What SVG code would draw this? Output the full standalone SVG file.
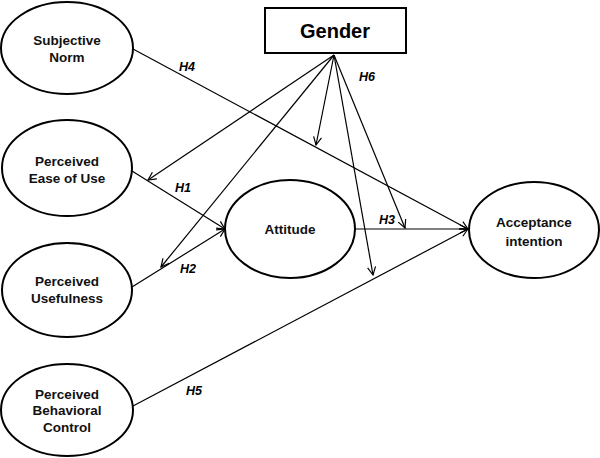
<svg xmlns="http://www.w3.org/2000/svg" width="600" height="458" viewBox="0 0 600 458">
<defs>
<marker id="ah" markerWidth="10" markerHeight="10" refX="9" refY="5" orient="auto" markerUnits="userSpaceOnUse">
<path d="M1,1 L9,5 L1,9" fill="none" stroke="#000" stroke-width="1.2"/>
</marker>
<style>
.n{fill:#fff;stroke:#000;stroke-width:2}
.t{font-family:"Liberation Sans",Arial,sans-serif;font-weight:bold;font-size:13.5px;text-anchor:middle;fill:#111}
.g{font-family:"Liberation Sans",Arial,sans-serif;font-weight:bold;font-size:20px;text-anchor:middle;fill:#000}
.h{font-family:"Liberation Sans",Arial,sans-serif;font-weight:bold;font-style:italic;font-size:12.5px;text-anchor:middle;fill:#000}
.c{stroke:#000;stroke-width:1.2;fill:none}
.a{marker-end:url(#ah)}
</style>
</defs>
<rect width="600" height="458" fill="#fff"/>
<g id="connectors">
<line class="c a" x1="133" y1="49" x2="468" y2="229"/>
<line class="c a" x1="132" y1="171" x2="225" y2="229"/>
<line class="c a" x1="132" y1="287" x2="225" y2="229"/>
<line class="c a" x1="355" y1="229" x2="468" y2="229"/>
<line class="c a" x1="133" y1="406" x2="468" y2="229"/>
<line class="c a" x1="334" y1="55" x2="148" y2="180"/>
<line class="c a" x1="334" y1="55" x2="161" y2="267"/>
<line class="c a" x1="334" y1="55" x2="316" y2="145"/>
<line class="c a" x1="334" y1="55" x2="405" y2="228"/>
<line class="c a" x1="334" y1="55" x2="373" y2="275"/>
<text class="h" x="187" y="71">H4</text>
<text class="h" x="367" y="81">H6</text>
<text class="h" x="183" y="192">H1</text>
<text class="h" x="188" y="273">H2</text>
<text class="h" x="387" y="224">H3</text>
<text class="h" x="194" y="395">H5</text>
</g>
<g id="gender">
<rect class="n" x="265" y="8" width="141" height="45"/>
<text class="g" x="335" y="38">Gender</text>
</g>
<g id="subjective-norm">
<ellipse class="n" cx="67" cy="48" rx="66" ry="46"/>
<text class="t" x="67" y="45">Subjective</text>
<text class="t" x="67" y="62">Norm</text>
</g>
<g id="ease-of-use">
<ellipse class="n" cx="67" cy="168" rx="65" ry="48"/>
<text class="t" x="67" y="166">Perceived</text>
<text class="t" x="67" y="183">Ease of Use</text>
</g>
<g id="usefulness">
<ellipse class="n" cx="67" cy="290" rx="65" ry="47"/>
<text class="t" x="67" y="286">Perceived</text>
<text class="t" x="67" y="303">Usefulness</text>
</g>
<g id="behavioral-control">
<ellipse class="n" cx="67" cy="410" rx="66" ry="46"/>
<text class="t" x="67" y="399">Perceived</text>
<text class="t" x="67" y="415">Behavioral</text>
<text class="t" x="67" y="432">Control</text>
</g>
<g id="attitude">
<ellipse class="n" cx="290" cy="229" rx="65" ry="49"/>
<text class="t" x="290" y="234">Attitude</text>
</g>
<g id="acceptance">
<ellipse class="n" cx="534" cy="230" rx="65" ry="48"/>
<text class="t" x="534" y="227">Acceptance</text>
<text class="t" x="534" y="246">intention</text>
</g>
</svg>
